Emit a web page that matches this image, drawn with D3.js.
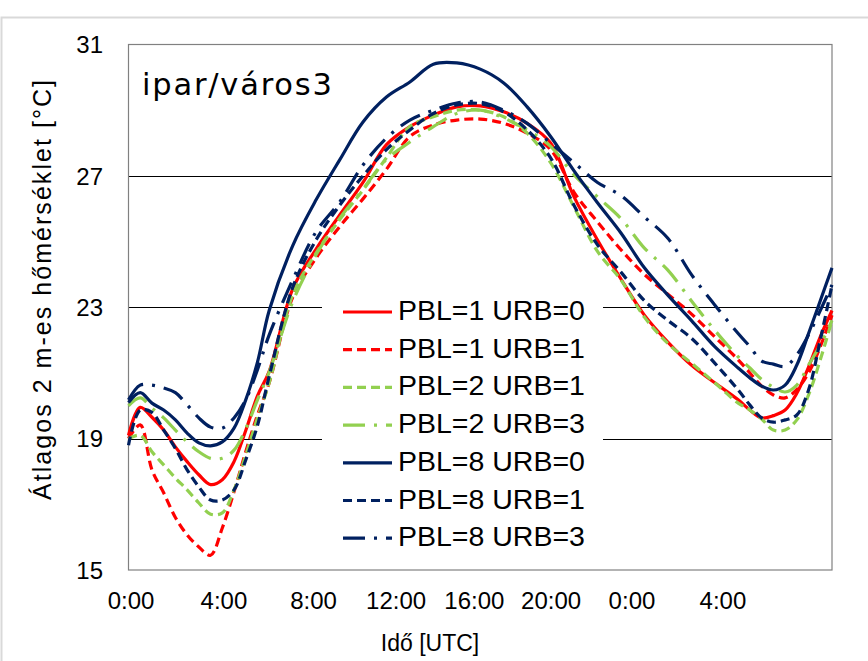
<!DOCTYPE html>
<html>
<head>
<meta charset="utf-8">
<script src="https://cdn.jsdelivr.net/npm/d3@7/dist/d3.min.js"></script>
<style>
  body { margin: 0; background: #fff; }
</style>
</head>
<body>
<div id="chart"></div>
<script>
// time of day, hours from the first midnight
var hours = [0, 0.5, 1, 1.5, 2, 2.5, 3, 3.5, 4, 4.5, 5, 5.5, 6,
  7, 8, 9, 10, 11, 12, 13, 14, 15, 16, 17, 18, 19, 20, 21, 22, 23, 24, 25, 26,
  26.5, 27, 27.5, 28, 28.5, 29, 29.5, 30];

// 2 m temperature [°C] per run
var pbl1urb0 = [19.1, 19.95, 19.65, 19.26, 18.75, 18.3, 17.9, 17.6, 17.75, 18.3, 19.25, 20.3, 21.05,
  23.55, 24.77, 25.8, 26.8, 27.95, 28.5, 28.85, 29.1, 29.13, 28.95, 28.6, 28.0, 26.36, 25.05, 23.86, 22.76, 21.94, 21.24, 20.7, 20.18,
  19.87, 19.63, 19.7, 19.87, 20.38, 21.18, 22.1, 22.9];
var pbl1urb1 = [19.0, 19.42, 18.05, 17.35, 16.6, 16.07, 15.7, 15.45, 16.28, 17.38, 18.6, 19.72, 20.7,
  23.3, 24.5, 25.45, 26.3, 27.2, 28.2, 28.55, 28.7, 28.73, 28.6, 28.3, 27.8, 26.5, 25.6, 24.75, 24.0, 23.4, 22.8, 22.1, 21.4,
  21.0, 20.6, 20.33, 20.24, 20.5, 21.0, 21.8, 22.76];
var pbl2urb1 = [19.0, 19.1, 18.6, 18.2, 17.8, 17.44, 17.04, 16.7, 16.74, 17.44, 18.5, 19.63, 20.7,
  23.37, 24.65, 25.66, 26.57, 27.55, 28.5, 28.8, 29.0, 29.0, 28.8, 28.3, 27.4, 26.05, 24.7, 23.83, 22.7, 21.9, 21.3, 20.7, 20.08,
  19.87, 19.6, 19.26, 19.26, 19.57, 20.33, 21.4, 22.6];
var pbl2urb3 = [20.0, 20.24, 19.93, 19.63, 19.26, 18.9, 18.6, 18.4, 18.4, 18.65, 19.3, 20.18, 21.03,
  23.16, 24.6, 25.7, 26.6, 27.5, 28.03, 28.5, 28.9, 29.0, 28.76, 28.4, 27.9, 27.03, 26.36, 25.7, 24.8, 24.13, 23.2, 22.3, 21.49,
  21.15, 20.8, 20.57, 20.42, 20.63, 21.24, 21.85, 22.6];
var pbl8urb0 = [20.1, 20.4, 20.08, 19.87, 19.57, 19.17, 18.87, 18.78, 18.9, 19.32, 20.18, 21.33, 22.9,
  24.87, 26.27, 27.48, 28.64, 29.4, 29.86, 30.4, 30.44, 30.25, 29.83, 29.1, 28.2, 27.15, 26.18, 25.26, 24.2, 23.37, 22.6, 21.8, 21.15,
  20.85, 20.6, 20.48, 20.63, 21.24, 22.2, 23.2, 24.2];
var pbl8urb1 = [18.8, 19.87, 19.8, 19.26, 18.7, 18.05, 17.53, 17.13, 17.13, 17.44, 18.35, 19.4, 20.9,
  23.6, 25.05, 26.1, 27.0, 27.8, 28.4, 28.9, 29.16, 29.2, 28.95, 28.4, 27.55, 26.1, 24.9, 24.07, 23.2, 22.6, 22.06, 21.3, 20.48,
  20.02, 19.63, 19.5, 19.57, 19.72, 20.48, 22.0, 23.68];
var pbl8urb3 = [20.18, 20.63, 20.63, 20.54, 20.4, 20.03, 19.63, 19.35, 19.32, 19.63, 20.18, 21.1, 22.16,
  23.83, 25.3, 26.2, 27.33, 28.15, 28.7, 29.0, 29.22, 29.25, 29.0, 28.6, 28.0, 27.4, 26.8, 26.4, 25.75, 25.1, 24.0, 23.07, 22.2,
  21.8, 21.36, 21.27, 21.2, 21.55, 22.16, 22.9, 23.68];

var seriesNames = ["PBL=1 URB=0", "PBL=1 URB=1", "PBL=2 URB=1", "PBL=2 URB=3",
  "PBL=8 URB=0", "PBL=8 URB=1", "PBL=8 URB=3"];
var seriesValues = [pbl1urb0, pbl1urb1, pbl2urb1, pbl2urb3, pbl8urb0, pbl8urb1, pbl8urb3];

// axis ticks
var yTicks = [15, 19, 23, 27, 31];
var xTickLabels = ["0:00", "4:00", "8:00", "12:00", "16:00", "20:00", "0:00", "4:00"];
var xTickHours = [0.11, 4.07, 7.89, 11.41, 14.75, 18.02, 21.47, 25.35];

// styles
var red = "#ff0000", green = "#92d050", navy = "#002060";
var dashed = "9,5", dashDot = "22,9,3,9";
var seriesStyle = [
  { color: red, dash: null },
  { color: red, dash: dashed },
  { color: green, dash: dashed },
  { color: green, dash: dashDot },
  { color: navy, dash: null },
  { color: navy, dash: dashed },
  { color: navy, dash: dashDot }
];

var sans = "Arial, 'Liberation Sans', sans-serif";
var width = 868, height = 661;
var plot = { left: 128.5, right: 832, top: 44.5, bottom: 570 };

var svg = d3.select("#chart")
  .append("svg")
  .attr("width", width)
  .attr("height", height)
  .style("font-family", sans);

// outer chart frame
svg.append("rect")
  .attr("x", 1.5).attr("y", 17.5)
  .attr("width", width + 20).attr("height", height + 20)
  .attr("fill", "#fff")
  .attr("stroke", "#d9d9d9")
  .attr("stroke-width", 2);

var x = d3.scaleLinear().domain([0, 30]).range([plot.left, plot.right]);
var y = d3.scaleLinear().domain([15, 31]).range([plot.bottom, plot.top]);

// gridlines
svg.append("g")
  .selectAll("line")
  .data(yTicks.filter(function (d) { return d > 15 && d < 31; }))
  .enter()
  .append("line")
  .attr("x1", plot.left)
  .attr("x2", plot.right)
  .attr("y1", function (d) { return Math.round(y(d)) + 0.5; })
  .attr("y2", function (d) { return Math.round(y(d)) + 0.5; })
  .attr("stroke", "#000")
  .attr("stroke-width", 1);

// plot border
svg.append("rect")
  .attr("x", plot.left).attr("y", plot.top)
  .attr("width", plot.right - plot.left)
  .attr("height", plot.bottom - plot.top)
  .attr("fill", "none")
  .attr("stroke", "#808080")
  .attr("stroke-width", 1.2);

// y tick labels
svg.append("g")
  .selectAll("text")
  .data(yTicks)
  .enter()
  .append("text")
  .attr("x", 103)
  .attr("y", function (d) { return y(d); })
  .attr("dy", "0.36em")
  .attr("text-anchor", "end")
  .style("font-family", sans)
  .style("font-size", "24px")
  .text(function (d) { return d; });

// x tick labels
svg.append("g")
  .selectAll("text")
  .data(xTickLabels)
  .enter()
  .append("text")
  .attr("x", function (d, i) { return x(xTickHours[i]); })
  .attr("y", 609)
  .attr("text-anchor", "middle")
  .style("font-family", sans)
  .style("font-size", "24px")
  .text(function (d) { return d; });

// axis titles
svg.append("text")
  .attr("x", 430).attr("y", 651)
  .attr("text-anchor", "middle")
  .style("font-family", sans)
  .style("font-size", "23px")
  .text("Idő [UTC]");

svg.append("text")
  .attr("transform", "translate(51,290) rotate(-90)")
  .attr("text-anchor", "middle")
  .attr("textLength", 420)
  .attr("lengthAdjust", "spacing")
  .style("font-family", sans)
  .style("font-size", "25px")
  .text("Átlagos 2 m-es hőmérséklet [°C]");

// chart caption inside the plot
svg.append("text")
  .attr("x", 142).attr("y", 95)
  .style("font-family", "'DejaVu Sans', Verdana, sans-serif")
  .style("font-size", "30.5px")
  .style("letter-spacing", "1.8px")
  .text("ipar/város3");

// series lines
var line = d3.line()
  .x(function (d) { return x(d.h); })
  .y(function (d) { return y(d.t); })
  .curve(d3.curveCatmullRom.alpha(0.5));

var series = seriesNames.map(function (name, i) {
  return {
    name: name,
    style: seriesStyle[i],
    points: hours.map(function (h, j) { return { h: h, t: seriesValues[i][j] }; })
  };
});

svg.append("g")
  .selectAll("path")
  .data(series)
  .enter()
  .append("path")
  .attr("d", function (d) { return line(d.points); })
  .attr("fill", "none")
  .attr("stroke", function (d) { return d.style.color; })
  .attr("stroke-width", 3.2)
  .attr("stroke-linejoin", "round")
  .attr("stroke-dasharray", function (d) { return d.style.dash; });

// legend
var legend = svg.append("g");
legend.append("rect")
  .attr("x", 322).attr("y", 292)
  .attr("width", 281).attr("height", 264)
  .attr("fill", "#fff");

var rowStep = 37.7;
var rows = legend.selectAll("g.row")
  .data(series)
  .enter()
  .append("g")
  .attr("class", "row")
  .attr("transform", function (d, i) { return "translate(0," + (312 + i * rowStep) + ")"; });

rows.append("line")
  .attr("x1", 343).attr("x2", 392)
  .attr("y1", 0).attr("y2", 0)
  .attr("stroke", function (d) { return d.style.color; })
  .attr("stroke-width", 3.2)
  .attr("stroke-dasharray", function (d) { return d.style.dash; });

rows.append("text")
  .attr("x", 398)
  .attr("y", 8)
  .style("font-family", sans)
  .style("font-size", "28.5px")
  .text(function (d) { return d.name; });
</script>
</body>
</html>
